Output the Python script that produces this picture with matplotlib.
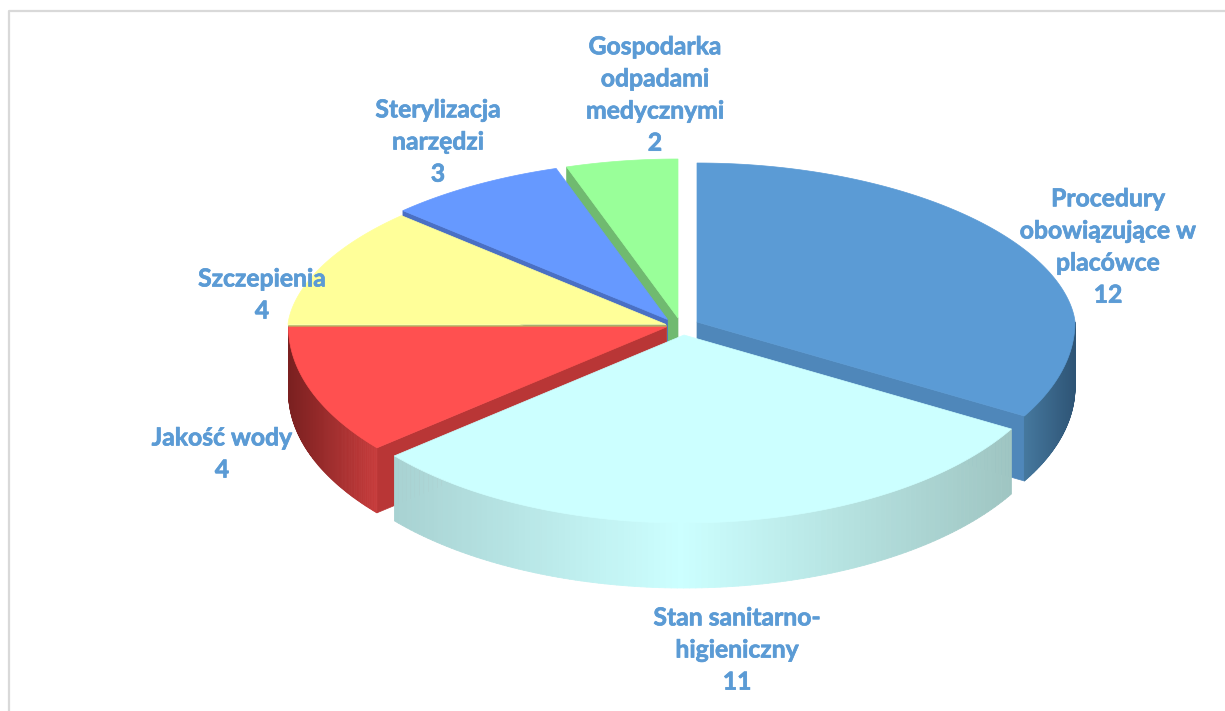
import matplotlib
matplotlib.use("Agg")
import matplotlib.pyplot as plt
import matplotlib.patheffects as pe
import numpy as np
from matplotlib.collections import PolyCollection
from matplotlib.colors import to_rgb
from matplotlib.patches import Polygon

plt.rcParams['font.family'] = ['Lato', 'DejaVu Sans']

categories = ["Procedury\nobowiązujące w\nplacówce", "Stan sanitarno-\nhigieniczny", "Jakość wody",
              "Szczepienia", "Sterylizacja\nnarzędzi", "Gospodarka\nodpadami\nmedycznymi"]
values = [12, 11, 4, 4, 3, 2]

# look of each slice, same order as values
apex = [(697, 322), (684, 335), (666.5, 327), (666, 324.5), (667.5, 319.5), (678, 318)]
top_col = ["#5b9bd5", "#ccffff", "#ff5050", "#ffff99", "#6699ff", "#99ff99"]
wall_col = ["#4f87ba", "#a8d2d2", "#b93636", "#b8b860", "#4a70c4", "#70ba70"]
label_pos = [(1108, 247), (737, 650), (222, 454), (262, 295), (438, 142), (655, 95)]

THICK = 65


def project(center, theta):
    # theta in degrees, clockwise from 12 o'clock, flattened pie with a bit of perspective
    t = np.radians(theta)
    u = np.sin(t)
    v = np.cos(t)
    back = np.clip(v, 0, None)
    x = center[0] + 378 * u * (1 - 0.15 * back ** 1.25)
    y = center[1] - v * (188 - 29 * back)
    return np.column_stack([x, y])


def wall_gradient(ax, center, t0, t1, xs, cols):
    # outer rim of a slice, cut in thin strips so the shading runs along x
    th = np.linspace(t0, t1, 120)
    pts = project(center, th)
    stops = np.array([to_rgb(c) for c in cols])
    polys = []
    colors = []
    for i in range(len(th) - 1):
        a, b = pts[i], pts[i + 1]
        polys.append([a, b, b + [0, THICK], a + [0, THICK]])
        xm = (a[0] + b[0]) / 2
        colors.append([np.interp(xm, xs, stops[:, k]) for k in range(3)])
    ax.add_collection(PolyCollection(polys, facecolors=colors, edgecolors=colors, linewidths=0.6))


def side_wall(ax, center, theta, color):
    corner = project(center, theta)[0]
    c = np.array(center, dtype=float)
    ax.add_patch(Polygon([c, corner, corner + [0, THICK], c + [0, THICK]], closed=True,
                         facecolor=color, edgecolor=color, linewidth=0.5))


def top_face(ax, center, t0, t1, color):
    arc = project(center, np.linspace(t0, t1, 200))
    ax.add_patch(Polygon(np.vstack([[center], arc]), closed=True, facecolor=color,
                         edgecolor=color, linewidth=0.5))


fig = plt.figure(figsize=(12.25, 7.11), dpi=100)
ax = fig.add_axes([0, 0, 1, 1])
ax.set_xlim(0, 1225)
ax.set_ylim(711, 0)
ax.axis('off')

# chart frame, only top and left show
ax.plot([8.5, 8.5, 1225], [711, 11, 11], color="#d9d9d9", lw=1.6)

edges = np.cumsum([0] + values) / sum(values) * 360

# back slices first
for i, theta in [(5, edges[5]), (4, edges[4]), (3, edges[3])]:
    side_wall(ax, apex[i], theta, wall_col[i])
    top_face(ax, apex[i], edges[i], edges[i + 1], top_col[i])

# red
side_wall(ax, apex[2], edges[2], wall_col[2])
wall_gradient(ax, apex[2], edges[2], edges[3], [288, 377], ["#7a2020", "#c83c3c"])
top_face(ax, apex[2], edges[2], edges[3], top_col[2])

# blue
side_wall(ax, apex[0], edges[1], wall_col[0])
wall_gradient(ax, apex[0], 90, edges[1], [1023, 1075], ["#46799f", "#2e5475"])
top_face(ax, apex[0], edges[0], edges[1], top_col[0])

# cyan in front of everything
wall_gradient(ax, apex[1], edges[1], edges[2], [396, 680, 1010], ["#a8d2d2", "#ccffff", "#9fc5c2"])
top_face(ax, apex[1], edges[1], edges[2], top_col[1])

for name, val, pos in zip(categories, values, label_pos):
    ax.text(pos[0], pos[1], name + "\n" + str(val), ha='center', va='center', color="#5b9bd5",
            fontsize=17.8, fontweight='bold', linespacing=1.48, zorder=10,
            path_effects=[pe.withStroke(linewidth=0.5, foreground="#5b9bd5")])

fig.savefig("out.png", dpi=100)
